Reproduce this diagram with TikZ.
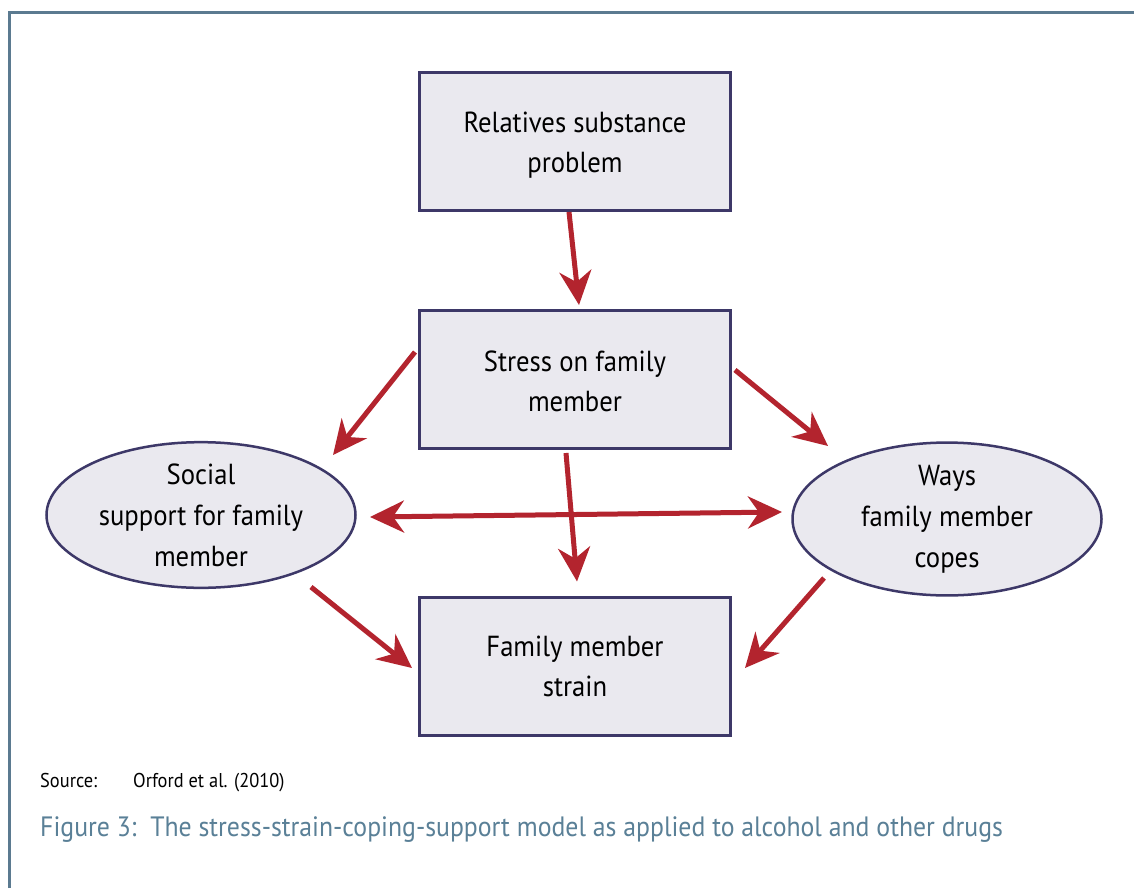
\documentclass[tikz,border=0pt]{standalone}
\usepackage{fontspec}
\setmainfont{PT Sans}[FakeStretch=0.92]
\usetikzlibrary{arrows.meta,shapes.geometric}
\definecolor{arrred}{HTML}{B3242E}
\definecolor{nodeborder}{HTML}{3D3868}
\definecolor{nodefill}{HTML}{EAE9EF}
\definecolor{framecol}{HTML}{5B7A90}
\definecolor{capcol}{HTML}{5A8097}
\newcommand{\lowtext}[2]{\raisebox{#1}[\height][\depth]{\begin{tabular}{@{}c@{}}#2\end{tabular}}}
\tikzset{
  shape box/.style={draw=nodeborder, fill=nodefill, line width=3pt, minimum width=311pt, minimum height=138pt, align=center, font=\fontsize{29}{40}\selectfont, inner sep=0pt},
  shape ell/.style={ellipse, draw=nodeborder, fill=nodefill, line width=2.5pt, minimum width=309pt, minimum height=134pt, align=center, font=\fontsize{29}{41}\selectfont, inner sep=0pt},
  arr/.style={draw=arrred, line width=5pt, -{Stealth[length=34pt,width=32pt,inset=11pt]}},
  darr/.style={draw=arrred, line width=5pt, {Stealth[length=34pt,width=32pt,inset=11pt]}-{Stealth[length=34pt,width=32pt,inset=11pt]}},
}
\begin{document}
\begin{tikzpicture}[x=1pt,y=-1pt]
\useasboundingbox (0,0) rectangle (1134,888);
\fill[white] (0,0) rectangle (1134,888);
\draw[framecol, line width=3pt] (9.5,888) |- (1134,12.5);
\node[shape box] (top) at (575,141.5) {\lowtext{-3pt}{Relatives substance\\problem}};
\node[shape box] (mid) at (575,379.5) {\lowtext{-4pt}{Stress on family\\member}};
\node[shape box] (bot) at (575,666) {Family member\\strain};
\node[shape ell] (left) at (201,515) {Social\\support for family\\member};
\node[shape ell] (right) at (947,519) {Ways\\family member\\copes};
\draw[arr] ([shift={(-6,0)}]top.south) -- ([shift={(4,-4)}]mid.north);
\draw[arr] ([shift={(-3,-27.5)}]mid.west) -- ([shift={(132,-60)}]left.center);
\draw[arr] ([shift={(3,-9.5)}]mid.east) -- ([shift={(-119,-73)}]right.center);
\draw[arr] ([shift={(-9,3)}]mid.south) -- ([shift={(2,-14)}]bot.north);
\draw[darr] ([shift={(169,2)}]left.center) -- ([shift={(-165,-7)}]right.center);
\draw[arr] ([shift={(110,72)}]left.center) -- ([shift={(-6,2)}]bot.west);
\draw[arr] ([shift={(-123,59)}]right.center) -- ([shift={(13,2)}]bot.east);
\node[anchor=base west, inner sep=0pt, font=\fontsize{20}{22}\selectfont] (src) at (40,787) {Source:};
\node[anchor=base west, inner sep=0pt, font=\fontsize{20}{22}\selectfont] (srct) at (133,787) {Orford et al. (2010)};
\node[anchor=base west, inner sep=0pt, text=capcol, font=\fontsize{28}{32}\selectfont] (cap) at (40,836) {Figure 3:\ \ The stress-strain-coping-support model as applied to alcohol and other drugs};
\end{tikzpicture}
\end{document}
